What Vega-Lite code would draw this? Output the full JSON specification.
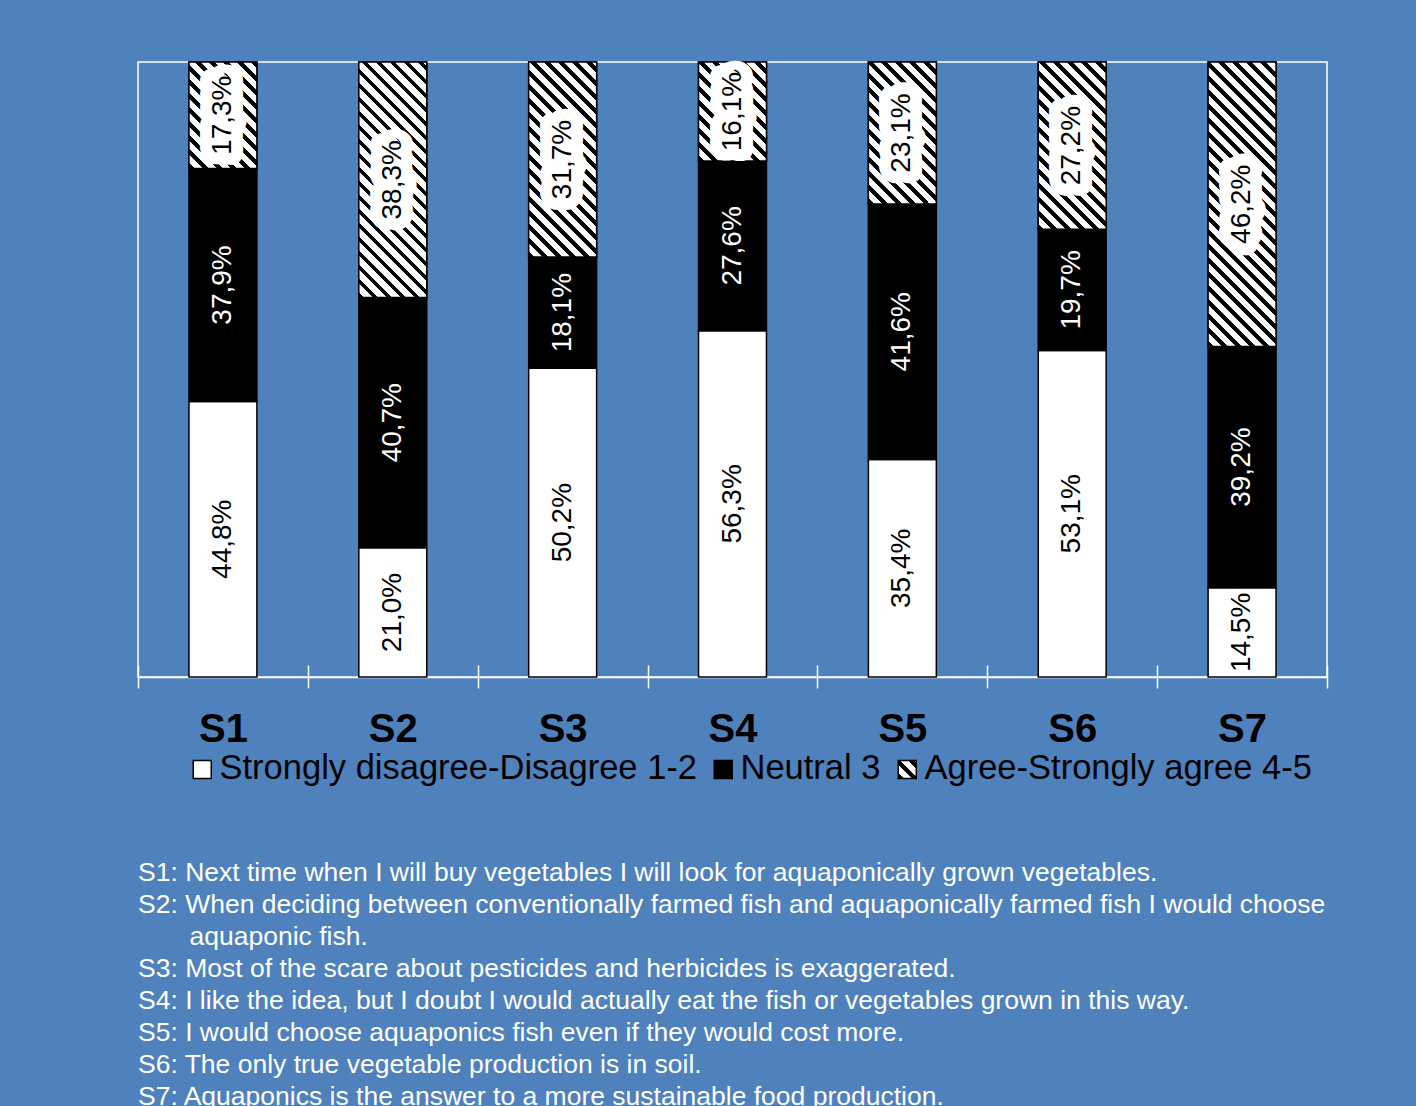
{
  "$schema": "https://vega.github.io/schema/vega-lite/v6.json",
  "width": 1189,
  "height": 615,
  "autosize": {"type": "none"},
  "padding": {"left": 138, "top": 62, "right": 89, "bottom": 429},
  "background": "#4F81BD",
  "config": {
    "locale": {"number": {"decimal": ",", "thousands": ".", "grouping": [3], "currency": ["", " €"]}},
    "view": {"stroke": "white", "strokeWidth": 1.5},
    "font": "Liberation Sans"
  },
  "params": [
    {"name": "hs", "value": [
      {"offset": 0, "color": "#000"}, {"offset": 0.0154, "color": "#000"}, {"offset": 0.0154, "color": "#fff"}, {"offset": 0.0385, "color": "#fff"},
      {"offset": 0.0385, "color": "#000"}, {"offset": 0.0538, "color": "#000"}, {"offset": 0.0538, "color": "#fff"}, {"offset": 0.0769, "color": "#fff"},
      {"offset": 0.0769, "color": "#000"}, {"offset": 0.0923, "color": "#000"}, {"offset": 0.0923, "color": "#fff"}, {"offset": 0.1154, "color": "#fff"},
      {"offset": 0.1154, "color": "#000"}, {"offset": 0.1308, "color": "#000"}, {"offset": 0.1308, "color": "#fff"}, {"offset": 0.1538, "color": "#fff"},
      {"offset": 0.1538, "color": "#000"}, {"offset": 0.1692, "color": "#000"}, {"offset": 0.1692, "color": "#fff"}, {"offset": 0.1923, "color": "#fff"},
      {"offset": 0.1923, "color": "#000"}, {"offset": 0.2077, "color": "#000"}, {"offset": 0.2077, "color": "#fff"}, {"offset": 0.2308, "color": "#fff"},
      {"offset": 0.2308, "color": "#000"}, {"offset": 0.2462, "color": "#000"}, {"offset": 0.2462, "color": "#fff"}, {"offset": 0.2692, "color": "#fff"},
      {"offset": 0.2692, "color": "#000"}, {"offset": 0.2846, "color": "#000"}, {"offset": 0.2846, "color": "#fff"}, {"offset": 0.3077, "color": "#fff"},
      {"offset": 0.3077, "color": "#000"}, {"offset": 0.3231, "color": "#000"}, {"offset": 0.3231, "color": "#fff"}, {"offset": 0.3462, "color": "#fff"},
      {"offset": 0.3462, "color": "#000"}, {"offset": 0.3615, "color": "#000"}, {"offset": 0.3615, "color": "#fff"}, {"offset": 0.3846, "color": "#fff"},
      {"offset": 0.3846, "color": "#000"}, {"offset": 0.4, "color": "#000"}, {"offset": 0.4, "color": "#fff"}, {"offset": 0.4231, "color": "#fff"},
      {"offset": 0.4231, "color": "#000"}, {"offset": 0.4385, "color": "#000"}, {"offset": 0.4385, "color": "#fff"}, {"offset": 0.4615, "color": "#fff"},
      {"offset": 0.4615, "color": "#000"}, {"offset": 0.4769, "color": "#000"}, {"offset": 0.4769, "color": "#fff"}, {"offset": 0.5, "color": "#fff"},
      {"offset": 0.5, "color": "#000"}, {"offset": 0.5154, "color": "#000"}, {"offset": 0.5154, "color": "#fff"}, {"offset": 0.5385, "color": "#fff"},
      {"offset": 0.5385, "color": "#000"}, {"offset": 0.5538, "color": "#000"}, {"offset": 0.5538, "color": "#fff"}, {"offset": 0.5769, "color": "#fff"},
      {"offset": 0.5769, "color": "#000"}, {"offset": 0.5923, "color": "#000"}, {"offset": 0.5923, "color": "#fff"}, {"offset": 0.6154, "color": "#fff"},
      {"offset": 0.6154, "color": "#000"}, {"offset": 0.6308, "color": "#000"}, {"offset": 0.6308, "color": "#fff"}, {"offset": 0.6538, "color": "#fff"},
      {"offset": 0.6538, "color": "#000"}, {"offset": 0.6692, "color": "#000"}, {"offset": 0.6692, "color": "#fff"}, {"offset": 0.6923, "color": "#fff"},
      {"offset": 0.6923, "color": "#000"}, {"offset": 0.7077, "color": "#000"}, {"offset": 0.7077, "color": "#fff"}, {"offset": 0.7308, "color": "#fff"},
      {"offset": 0.7308, "color": "#000"}, {"offset": 0.7462, "color": "#000"}, {"offset": 0.7462, "color": "#fff"}, {"offset": 0.7692, "color": "#fff"},
      {"offset": 0.7692, "color": "#000"}, {"offset": 0.7846, "color": "#000"}, {"offset": 0.7846, "color": "#fff"}, {"offset": 0.8077, "color": "#fff"},
      {"offset": 0.8077, "color": "#000"}, {"offset": 0.8231, "color": "#000"}, {"offset": 0.8231, "color": "#fff"}, {"offset": 0.8462, "color": "#fff"},
      {"offset": 0.8462, "color": "#000"}, {"offset": 0.8615, "color": "#000"}, {"offset": 0.8615, "color": "#fff"}, {"offset": 0.8846, "color": "#fff"},
      {"offset": 0.8846, "color": "#000"}, {"offset": 0.9, "color": "#000"}, {"offset": 0.9, "color": "#fff"}, {"offset": 0.9231, "color": "#fff"},
      {"offset": 0.9231, "color": "#000"}, {"offset": 0.9385, "color": "#000"}, {"offset": 0.9385, "color": "#fff"}, {"offset": 0.9615, "color": "#fff"},
      {"offset": 0.9615, "color": "#000"}, {"offset": 0.9769, "color": "#000"}, {"offset": 0.9769, "color": "#fff"}, {"offset": 1, "color": "#fff"}
    ]}
  ],
  "data": {
    "values": [
      {"s": "S1", "cat": "Strongly disagree-Disagree 1-2", "pct": 0.448},
      {"s": "S1", "cat": "Neutral 3", "pct": 0.379},
      {"s": "S1", "cat": "Agree-Strongly agree 4-5", "pct": 0.173},
      {"s": "S2", "cat": "Strongly disagree-Disagree 1-2", "pct": 0.21},
      {"s": "S2", "cat": "Neutral 3", "pct": 0.407},
      {"s": "S2", "cat": "Agree-Strongly agree 4-5", "pct": 0.383},
      {"s": "S3", "cat": "Strongly disagree-Disagree 1-2", "pct": 0.502},
      {"s": "S3", "cat": "Neutral 3", "pct": 0.181},
      {"s": "S3", "cat": "Agree-Strongly agree 4-5", "pct": 0.317},
      {"s": "S4", "cat": "Strongly disagree-Disagree 1-2", "pct": 0.563},
      {"s": "S4", "cat": "Neutral 3", "pct": 0.276},
      {"s": "S4", "cat": "Agree-Strongly agree 4-5", "pct": 0.161},
      {"s": "S5", "cat": "Strongly disagree-Disagree 1-2", "pct": 0.354},
      {"s": "S5", "cat": "Neutral 3", "pct": 0.416},
      {"s": "S5", "cat": "Agree-Strongly agree 4-5", "pct": 0.231},
      {"s": "S6", "cat": "Strongly disagree-Disagree 1-2", "pct": 0.531},
      {"s": "S6", "cat": "Neutral 3", "pct": 0.197},
      {"s": "S6", "cat": "Agree-Strongly agree 4-5", "pct": 0.272},
      {"s": "S7", "cat": "Strongly disagree-Disagree 1-2", "pct": 0.145},
      {"s": "S7", "cat": "Neutral 3", "pct": 0.392},
      {"s": "S7", "cat": "Agree-Strongly agree 4-5", "pct": 0.462}
    ]
  },
  "title": {
    "text": [
      "S1: Next time when I will buy vegetables I will look for aquaponically grown vegetables.",
      "S2: When deciding between conventionally farmed fish and aquaponically farmed fish I would choose",
      "\u200d\u00a0\u00a0\u00a0\u00a0\u00a0\u00a0\u00a0aquaponic fish.",
      "S3: Most of the scare about pesticides and herbicides is exaggerated.",
      "S4: I like the idea, but I doubt I would actually eat the fish or vegetables grown in this way.",
      "S5: I would choose aquaponics fish even if they would cost more.",
      "S6: The only true vegetable production is in soil.",
      "S7: Aquaponics is the answer to a more sustainable food production."
    ],
    "orient": "bottom",
    "anchor": "start",
    "frame": "group",
    "align": "left",
    "baseline": "top",
    "color": "white",
    "font": "Liberation Sans",
    "fontSize": 26.5,
    "fontWeight": "normal",
    "lineHeight": 32,
    "offset": 74
  },
  "resolve": {"axis": {"x": "independent"}},
  "layer": [
    {
      "mark": {"type": "bar", "stroke": "black", "strokeWidth": 1.5, "width": {"band": 0.4}},
      "encoding": {
        "x": {"field": "s", "type": "nominal", "title": null,
          "scale": {"paddingInner": 0, "paddingOuter": 0},
          "axis": {"orient": "bottom", "labelAngle": 0, "labelFont": "Liberation Sans", "labelFontSize": 40, "labelFontWeight": "bold", "labelColor": "black", "labelPadding": 21, "domainColor": "white", "domainWidth": 1.5, "tickColor": "white", "tickWidth": 1.5, "tickSize": 11, "tickBand": "extent"}},
        "y": {"field": "pct", "type": "quantitative", "stack": "normalize", "axis": null, "scale": {"domain": [0, 1]}},
        "color": {"field": "cat", "type": "nominal",
          "scale": {"domain": ["Strongly disagree-Disagree 1-2", "Neutral 3", "Agree-Strongly agree 4-5"],
            "range": ["white", "black", {"expr": "{gradient:'linear',x1:0,y1:1,x2:10.11,y2:-9.11,stops:hs}"}]},
          "legend": {"orient": "none", "legendX": 47, "legendY": 690, "direction": "horizontal", "title": null, "labelFont": "Liberation Sans", "labelFontSize": 34.5, "labelColor": "black", "labelLimit": 0, "labelOffset": 0, "columnPadding": 9, "symbolType": "square", "symbolSize": 324, "symbolStrokeColor": "black", "symbolStrokeWidth": 1.5, "symbolOpacity": 1, "padding": 0}},
        "order": {"field": "cat", "sort": "descending"}
      }
    },
    {
      "mark": {"type": "bar", "stroke": "black", "strokeWidth": 1.5, "width": {"band": 0.4}},
      "encoding": {
        "x": {"field": "s", "type": "nominal", "title": null,
          "axis": {"orient": "bottom", "labels": false, "domain": false, "tickColor": "white", "tickWidth": 1.5, "tickSize": -12, "tickBand": "extent"}},
        "y": {"field": "pct", "type": "quantitative", "stack": "normalize"},
        "fill": {"field": "s", "type": "nominal", "legend": null,
          "scale": {"domain": ["S1", "S2", "S3", "S4", "S5", "S6", "S7"],
            "range": [
              {"expr": "{gradient:'linear',x1:0,y1:1,x2:1.5524,y2:-1.4290,stops:hs}"},
              {"expr": "{gradient:'linear',x1:0,y1:1,x2:0.41196,y2:-0.42671,stops:hs}"},
              {"expr": "{gradient:'linear',x1:0,y1:1,x2:0.58037,y2:-0.66429,stops:hs}"},
              {"expr": "{gradient:'linear',x1:0,y1:1,x2:1.71591,y2:-1.49817,stops:hs}"},
              {"expr": "{gradient:'linear',x1:0,y1:1,x2:0.99970,y2:-1.08610,stops:hs}"},
              {"expr": "{gradient:'linear',x1:0,y1:1,x2:0.75897,y2:-0.86725,stops:hs}"},
              {"expr": "{gradient:'linear',x1:0,y1:1,x2:0.28948,y2:-0.21069,stops:hs}"}
            ]}},
        "detail": {"field": "cat"},
        "opacity": {"condition": {"test": "datum.cat === 'Agree-Strongly agree 4-5'", "value": 1}, "value": 0},
        "order": {"field": "cat", "sort": "descending"}
      }
    },
    {
      "mark": {"type": "text", "angle": 270, "fontSize": 28, "font": "Liberation Sans", "stroke": "white", "strokeWidth": 24, "strokeJoin": "round", "fill": "white", "align": "center", "baseline": "middle"},
      "encoding": {
        "x": {"field": "s", "type": "nominal", "axis": null},
        "y": {"field": "pct", "type": "quantitative", "stack": "normalize", "bandPosition": 0.5},
        "text": {"field": "pct", "type": "quantitative", "format": ".1%"},
        "detail": {"field": "cat"},
        "opacity": {"condition": {"test": "datum.cat === 'Agree-Strongly agree 4-5'", "value": 1}, "value": 0},
        "order": {"field": "cat", "sort": "descending"}
      }
    },
    {
      "mark": {"type": "text", "angle": 270, "fontSize": 28, "font": "Liberation Sans", "align": "center", "baseline": "middle"},
      "encoding": {
        "x": {"field": "s", "type": "nominal", "axis": null},
        "y": {"field": "pct", "type": "quantitative", "stack": "normalize", "bandPosition": 0.5},
        "text": {"field": "pct", "type": "quantitative", "format": ".1%"},
        "detail": {"field": "cat"},
        "color": {"condition": {"test": "datum.cat === 'Neutral 3'", "value": "white"}, "value": "black"},
        "order": {"field": "cat", "sort": "descending"}
      }
    }
  ]
}
